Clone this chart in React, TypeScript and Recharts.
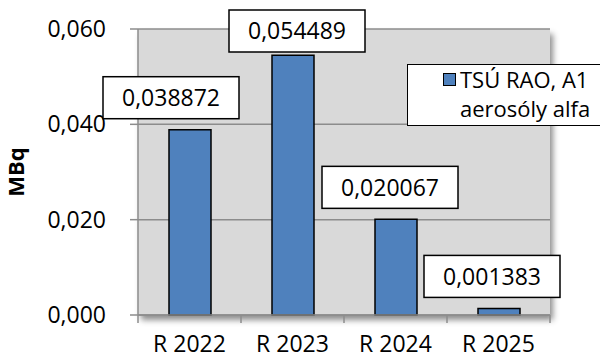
import React from "react";
import {
  BarChart,
  Bar,
  XAxis,
  YAxis,
  CartesianGrid,
  Legend,
  LabelList,
} from "recharts";

const years = ["R 2022", "R 2023", "R 2024", "R 2025"];
const values = [0.038872, 0.054489, 0.020067, 0.001383];
const yTicks = [0, 0.02, 0.04, 0.06];
const seriesName = "TSÚ RAO, A1 aerosóly alfa";

const data = years.map((year, i) => ({ year, value: values[i] }));

const FONT = "'Open Sans', sans-serif";
const BAR_COLOR = "#4F81BD";
const AXIS_GRAY = "#8c8c8c";
const BAND = 103;
// small manual nudges of the label boxes, as in the original
const labelNudge = [-19, 4, -6, -7];

const fmt = (v: number, digits: number) => v.toFixed(digits).replace(".", ",");

const XTick = ({ x, y, payload, index }: any) => {
  const half = BAND / 2;
  return (
    <g>
      <line x1={x - half} x2={x - half} y1={y} y2={y + 8} stroke={AXIS_GRAY} strokeWidth={1.5} />
      {index === years.length - 1 && (
        <line x1={x + half} x2={x + half} y1={y} y2={y + 8} stroke={AXIS_GRAY} strokeWidth={1.5} />
      )}
      <text x={x} y={y + 37} textAnchor="middle" fontSize={23} fontFamily={FONT} fill="#000">
        {payload.value}
      </text>
    </g>
  );
};

const ValueLabel = ({ x, y, width, value, index }: any) => {
  const boxW = 136;
  const boxH = 42;
  const cx = x + width / 2 + (labelNudge[index] || 0);
  const top = Math.max(10, y - 11 - boxH);
  return (
    <g>
      <rect x={cx - boxW / 2} y={top} width={boxW} height={boxH} fill="#fff" stroke="#000" strokeWidth={1.5} />
      <text x={cx} y={top + boxH / 2} dy="0.36em" textAnchor="middle" fontSize={23} fontFamily={FONT} fill="#000">
        {fmt(value, 6)}
      </text>
    </g>
  );
};

const CustomLegend = () => (
  <div
    style={{
      position: "absolute",
      left: 407,
      top: 64,
      width: 193,
      height: 62,
      boxSizing: "border-box",
      background: "#fff",
      border: "1.5px solid #000",
      borderRight: "none",
      fontFamily: FONT,
      fontSize: 22,
      lineHeight: "29px",
      color: "#000",
    }}
  >
    <div
      style={{
        position: "absolute",
        left: 35,
        top: 8,
        width: 11,
        height: 11,
        background: BAR_COLOR,
        border: "1.5px solid #000",
      }}
    />
    <div style={{ position: "absolute", left: 52, top: 0, whiteSpace: "nowrap" }}>
      TSÚ RAO, A1
    </div>
    <div style={{ position: "absolute", left: 52, top: 29, whiteSpace: "nowrap" }}>
      aerosóly alfa
    </div>
  </div>
);

export default function App() {
  return (
    <div style={{ position: "absolute", left: 0, top: 0, width: 600, height: 358, background: "#fff", overflow: "hidden" }}>
      <div
        style={{
          position: "absolute",
          left: 138,
          top: 29,
          width: 412,
          height: 286,
          background: "#d9d9d9",
          boxShadow: "3px 5px 6px rgba(0,0,0,0.45)",
        }}
      />
      <BarChart
        width={600}
        height={358}
        data={data}
        margin={{ top: 29, right: 50, bottom: 0, left: 0 }}
        style={{ position: "absolute", left: 0, top: 0 }}
      >
        <CartesianGrid vertical={false} stroke={AXIS_GRAY} strokeWidth={1.5} fill="#d9d9d9" />
        <XAxis
          dataKey="year"
          height={43}
          tickSize={0}
          tickMargin={0}
          tickLine={false}
          axisLine={{ stroke: AXIS_GRAY, strokeWidth: 1.5 }}
          tick={<XTick />}
          interval={0}
        />
        <YAxis
          width={138}
          domain={[0, 0.06]}
          ticks={yTicks}
          tickFormatter={(v: number) => fmt(v, 3)}
          tickSize={8}
          tickMargin={24}
          axisLine={{ stroke: AXIS_GRAY, strokeWidth: 1.5 }}
          tickLine={{ stroke: AXIS_GRAY, strokeWidth: 1.5 }}
          tick={{ fontSize: 23, fontFamily: FONT, fill: "#000" }}
          label={{
            value: "MBq",
            angle: -90,
            position: "insideLeft",
            offset: 0,
            dx: 16,
            style: { fontSize: 22, fontFamily: FONT, fontWeight: 700, fill: "#000", textAnchor: "middle" },
          }}
        />
        <Legend content={<CustomLegend />} wrapperStyle={{ position: "absolute", left: 0, top: 0, width: 0, height: 0 }} />
        <Bar
          dataKey="value"
          name={seriesName}
          fill={BAR_COLOR}
          stroke="#000"
          strokeWidth={1.5}
          barSize={42}
          isAnimationActive={false}
        >
          <LabelList dataKey="value" content={<ValueLabel />} />
        </Bar>
      </BarChart>
    </div>
  );
}
